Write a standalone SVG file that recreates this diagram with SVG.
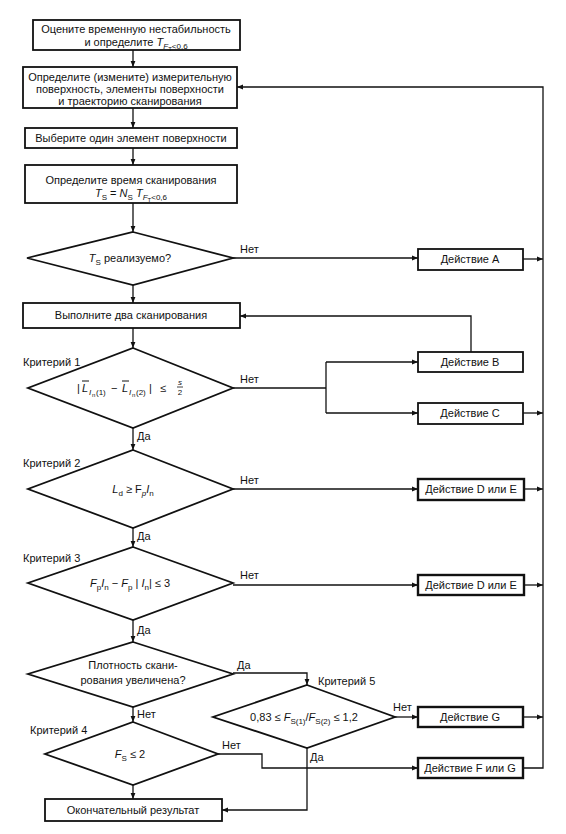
<svg xmlns="http://www.w3.org/2000/svg" width="566" height="834" viewBox="0 0 566 834">
<defs>
<marker id="ah" viewBox="0 0 10 10" refX="10" refY="5" markerWidth="7" markerHeight="6" orient="auto" markerUnits="userSpaceOnUse">
<path d="M0,1 L10,5 L0,9 z" fill="#111"/>
</marker>
</defs>
<style>
text{font-family:"Liberation Sans",Arial,sans-serif;font-size:11px;fill:#111}
.m{text-anchor:middle}
.b{fill:#fff;stroke:#111;stroke-width:1.8}
.bb{fill:#fff;stroke:#111;stroke-width:2.4}
.c{fill:none;stroke:#111;stroke-width:1.3}
.i{font-style:italic}
.s{font-size:8px}
.ss{font-size:6px}
</style>
<rect width="566" height="834" fill="#fff"/>
<g id="connectors">
<path class="c" d="M133,50 V67" marker-end="url(#ah)"/>
<path class="c" d="M133,108 V128" marker-end="url(#ah)"/>
<path class="c" d="M133,148 V165" marker-end="url(#ah)"/>
<path class="c" d="M133,203 V232" marker-end="url(#ah)"/>
<path class="c" d="M133,285 V303" marker-end="url(#ah)"/>
<path class="c" d="M133,328 V348" marker-end="url(#ah)"/>
<path class="c" d="M133,428 V450" marker-end="url(#ah)"/>
<path class="c" d="M133,528 V547" marker-end="url(#ah)"/>
<path class="c" d="M133,620 V642" marker-end="url(#ah)"/>
<path class="c" d="M133,707 V722" marker-end="url(#ah)"/>
<path class="c" d="M133,785 V799" marker-end="url(#ah)"/>
<path class="c" d="M233,258 H418" marker-end="url(#ah)"/>
<path class="c" d="M523,259 H543" marker-end="url(#ah)"/>
<path class="c" d="M233,388 H326"/>
<path class="c" d="M326,362 V413"/>
<path class="c" d="M326,362 H418" marker-end="url(#ah)"/>
<path class="c" d="M326,413 H418" marker-end="url(#ah)"/>
<path class="c" d="M471,352 V316 H240" marker-end="url(#ah)"/>
<path class="c" d="M523,413 H543" marker-end="url(#ah)"/>
<path class="c" d="M233,489 H418" marker-end="url(#ah)"/>
<path class="c" d="M524,489 H543" marker-end="url(#ah)"/>
<path class="c" d="M233,585 H418" marker-end="url(#ah)"/>
<path class="c" d="M524,585 H543" marker-end="url(#ah)"/>
<path class="c" d="M233,673 H307 V685" marker-end="url(#ah)"/>
<path class="c" d="M395,717 H418" marker-end="url(#ah)"/>
<path class="c" d="M523,717 H543" marker-end="url(#ah)"/>
<path class="c" d="M218,754 H262 V768 H418" marker-end="url(#ah)"/>
<path class="c" d="M523,768 H543 V87 H237" marker-end="url(#ah)"/>
<path class="c" d="M307,748 V810 H222" marker-end="url(#ah)"/>
<text x="240" y="253">Нет</text>
<text x="240" y="383">Нет</text>
<text x="240" y="484">Нет</text>
<text x="240" y="579">Нет</text>
<text x="237" y="669">Да</text>
<text x="393" y="711">Нет</text>
<text x="222" y="749">Нет</text>
<text x="137" y="440">Да</text>
<text x="137" y="540">Да</text>
<text x="137" y="634">Да</text>
<text x="137" y="718">Нет</text>
<text x="310" y="761">Да</text>
</g>
<g id="n1">
<rect class="b" x="33" y="20" width="207" height="30"/>
<text class="m" x="136" y="33">Оцените временную нестабильность</text>
<text class="m" x="136" y="46">и определите <tspan class="i">T</tspan><tspan class="s i" dy="3">F</tspan><tspan class="ss" dy="2">T</tspan><tspan class="s" dy="-2">&lt;0,6</tspan></text>
</g>
<g id="n2">
<rect class="b" x="23" y="67" width="214" height="41"/>
<text class="m" x="130" y="81">Определите (измените) измерительную</text>
<text class="m" x="130" y="93">поверхность, элементы поверхности</text>
<text class="m" x="130" y="105">и траекторию сканирования</text>
</g>
<g id="n3">
<rect class="b" x="25" y="128" width="212" height="20"/>
<text class="m" x="131" y="142">Выберите один элемент поверхности</text>
</g>
<g id="n4">
<rect class="b" x="25" y="165" width="212" height="38"/>
<text class="m" x="131" y="184">Определите время сканирования</text>
<text class="m" x="131" y="197"><tspan class="i">T</tspan><tspan class="s" dy="3">S</tspan><tspan dy="-3"> = </tspan><tspan class="i">N</tspan><tspan class="s" dy="3">S</tspan><tspan class="i" dy="-3"> T</tspan><tspan class="s i" dy="3">F</tspan><tspan class="ss" dy="2">T</tspan><tspan class="s" dy="-2">&lt;0,6</tspan></text>
</g>
<g id="d1">
<polygon class="b" points="133,232 233,258 133,285 27,258"/>
<text class="m" x="130" y="262"><tspan class="i">T</tspan><tspan class="s" dy="3">S</tspan><tspan dy="-3"> реализуемо?</tspan></text>
</g>
<g id="n5">
<rect class="b" x="23" y="303" width="217" height="25"/>
<text class="m" x="131" y="319">Выполните два сканирования</text>
</g>
<g id="d2">
<polygon class="b" points="133,348 233,388 133,428 28,388"/>
<text x="23" y="366">Критерий 1</text>
<text x="77" y="392">|</text>
<text class="i" x="82" y="392">L</text>
<text class="s i" x="89" y="395">I</text>
<text class="ss" x="92" y="397">n</text>
<text class="s" x="96" y="395">(1)</text>
<text x="111" y="392">−</text>
<text class="i" x="122" y="392">L</text>
<text class="s i" x="129" y="395">I</text>
<text class="ss" x="132" y="397">n</text>
<text class="s" x="136" y="395">(2)</text>
<text x="149" y="392">|</text>
<text x="160" y="392">≤</text>
<path d="M82,381 H89 M122,381 H129" stroke="#111" stroke-width="1"/>
<text class="m s i" x="180" y="385">s</text>
<path d="M177,387 H183" stroke="#111" stroke-width="0.8"/>
<text class="m s" x="180" y="395">2</text>
</g>
<g id="d3">
<polygon class="b" points="133,450 233,489 133,528 28,489"/>
<text x="23" y="467">Критерий 2</text>
<text class="m" x="133" y="493"><tspan class="i">L</tspan><tspan class="s" dy="3">d</tspan><tspan dy="-3"> ≥ F</tspan><tspan class="s i" dy="3">p</tspan><tspan class="i" dy="-3">I</tspan><tspan class="s" dy="3">n</tspan></text>
</g>
<g id="d4">
<polygon class="b" points="133,547 233,583 133,620 28,583"/>
<text x="23" y="562">Критерий 3</text>
<text class="m" x="130" y="587"><tspan class="i">F</tspan><tspan class="s" dy="3">p</tspan><tspan class="i" dy="-3">I</tspan><tspan class="s" dy="3">n</tspan><tspan dy="-3"> − </tspan><tspan class="i">F</tspan><tspan class="s" dy="3">p</tspan><tspan dy="-3"> | </tspan><tspan class="i">I</tspan><tspan class="s" dy="3">n</tspan><tspan dy="-3">| ≤ 3</tspan></text>
</g>
<g id="d5">
<polygon class="b" points="133,642 233,674 133,707 28,674"/>
<text class="m" x="133" y="669">Плотность скани-</text>
<text class="m" x="133" y="684">рования увеличена?</text>
</g>
<g id="d6">
<polygon class="b" points="133,722 218,754 133,785 45,754"/>
<text x="30" y="734">Критерий 4</text>
<text class="m" x="130" y="758"><tspan class="i">F</tspan><tspan class="s" dy="3">S</tspan><tspan dy="-3"> ≤ 2</tspan></text>
</g>
<g id="d7">
<polygon class="b" points="307,685 395,717 307,748 213,717"/>
<text x="318" y="685">Критерий 5</text>
<text class="m" x="304" y="721">0,83 ≤ <tspan class="i">F</tspan><tspan class="s" dy="3">S(1)</tspan><tspan dy="-3">/</tspan><tspan class="i">F</tspan><tspan class="s" dy="3">S(2)</tspan><tspan dy="-3"> ≤ 1,2</tspan></text>
</g>
<g id="n6">
<rect class="b" x="45" y="799" width="177" height="22"/>
<text class="m" x="133" y="814">Окончательный результат</text>
</g>
<g id="nA">
<rect class="b" x="418" y="249" width="105" height="21"/>
<text class="m" x="470" y="263">Действие А</text>
</g>
<g id="nB">
<rect class="b" x="418" y="352" width="105" height="20"/>
<text class="m" x="470" y="366">Действие В</text>
</g>
<g id="nC">
<rect class="b" x="418" y="403" width="105" height="21"/>
<text class="m" x="470" y="417">Действие С</text>
</g>
<g id="nDE1">
<rect class="bb" x="418" y="479" width="106" height="21"/>
<text class="m" x="471" y="493">Действие D или E</text>
</g>
<g id="nDE2">
<rect class="bb" x="418" y="575" width="106" height="20"/>
<text class="m" x="471" y="589">Действие D или E</text>
</g>
<g id="nG">
<rect class="bb" x="418" y="707" width="105" height="20"/>
<text class="m" x="470" y="721">Действие G</text>
</g>
<g id="nFG">
<rect class="bb" x="418" y="758" width="105" height="20"/>
<text class="m" x="470" y="772">Действие F или G</text>
</g>
</svg>
